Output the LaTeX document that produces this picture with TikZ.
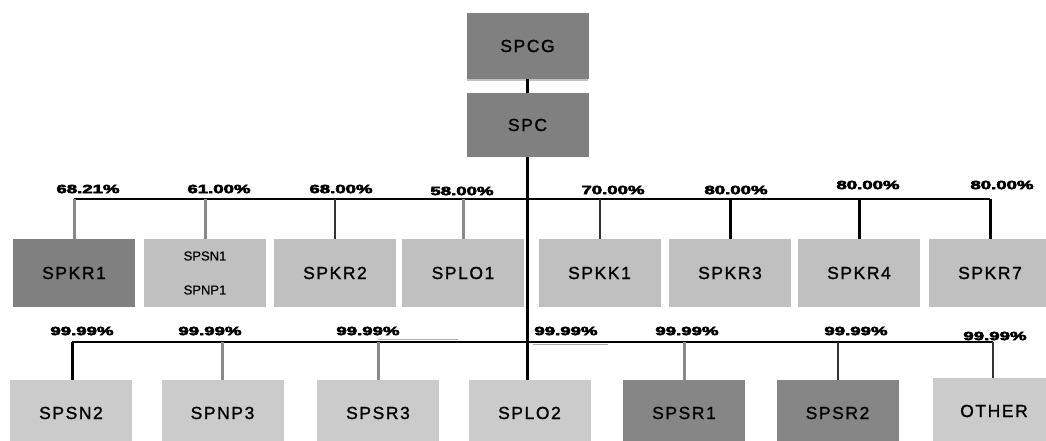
\documentclass[tikz,border=0pt]{standalone}
\usepackage{fontspec}
\setmainfont{Liberation Sans}
\newfontfamily\boxfont[LetterSpace=9,FakeBold=1.2]{Liberation Sans}
\newfontfamily\smallboxfont[FakeBold=0.5]{Liberation Sans}
\newfontfamily\pctfont[FakeBold=4]{Liberation Sans Bold}
\newcommand{\pc}[1]{\scalebox{1.55}[1]{\pctfont\fontsize{12}{12}\selectfont #1}}
\definecolor{darkbox}{HTML}{808080}
\definecolor{darkboxb}{HTML}{868686}
\definecolor{lightbox}{HTML}{C0C0C0}
\definecolor{lightboxb}{HTML}{CBCBCB}
\definecolor{dropgray}{HTML}{8A8A8A}
\definecolor{dropdark}{HTML}{333333}
\tikzset{
  box/.style={draw=none, minimum width=122pt, inner sep=0pt, text=black, font=\boxfont\fontsize{17.5}{17.5}\selectfont},
  dbox/.style={box, fill=darkbox},
  dboxb/.style={box, fill=darkboxb},
  lbox/.style={box, fill=lightbox},
  lboxb/.style={box, fill=lightboxb},
  pct/.style={inner sep=0pt},
  mainline/.style={draw=black, line width=3pt},
  barline/.style={draw=black, line width=2pt},
  dgray/.style={draw=dropgray, line width=3pt},
  ddark/.style={draw=dropdark, line width=2pt},
  dblack/.style={draw=black, line width=3pt},
  thingray/.style={draw=dropgray!70, line width=1pt}
}
\begin{document}
\begin{tikzpicture}[x=1pt,y=-1pt]
\useasboundingbox (0,0) rectangle (1046,441);
\fill[white] (0,0) rectangle (1046,441);
\clip (0,0) rectangle (1046,441);
% top boxes
\fill[lightbox] (467,78) rectangle (588,81);
\node[dbox, minimum height=66pt] (spcg) at (527.5,46) {SPCG};
\node[dbox, minimum height=64pt] (spc) at (527.5,125) {SPC};
% row 1
\node[dbox, minimum height=68pt] (spkr1) at (74,273) {SPKR1};
\node[lbox, minimum height=68pt, font=\smallboxfont\fontsize{13}{13}\selectfont, align=center] (spsn1) at (205,273) {SPSN1\\[21pt]SPNP1};
\node[lbox, minimum height=68pt] (spkr2) at (335,273) {SPKR2};
\node[lbox, minimum height=68pt] (splo1) at (463,273) {SPLO1};
\node[lbox, minimum height=68pt] (spkk1) at (599.5,273) {SPKK1};
\node[lbox, minimum height=68pt] (spkr3) at (730,273) {SPKR3};
\node[lbox, minimum height=68pt] (spkr4) at (859,273) {SPKR4};
\node[lbox, minimum height=68pt] (spkr7) at (990,273) {SPKR7};
% row 2
\node[lboxb, minimum height=66pt] (spsn2) at (71,413) {SPSN2};
\node[lboxb, minimum height=66pt] (spnp3) at (222.5,413) {SPNP3};
\node[lboxb, minimum height=66pt] (spsr3) at (378,413) {SPSR3};
\node[lboxb, minimum height=66pt] (splo2) at (529.5,413) {SPLO2};
\node[dboxb, minimum height=66pt] (spsr1) at (684,413) {SPSR1};
\node[dboxb, minimum height=66pt] (spsr2) at (837.5,413) {SPSR2};
\node[lboxb, minimum height=66pt] (other) at (994,411) {OTHER};
% bar coordinates
\coordinate (r1) at (529,199);
\coordinate (r2L) at (72,342);
\coordinate (r2R) at (993,342);
% main vertical
\draw[mainline] (spcg.south) -- (spc.north);
\draw[mainline] (spc.south) -- (spc.south |- splo2.north);
% row 1 bar and drops
\draw[barline] (spkr1.north |- r1) -- (spkr7.north |- r1);
\draw[dgray] (spkr1.north) -- (spkr1.north |- r1);
\draw[dgray] (spsn1.north) -- (spsn1.north |- r1);
\draw[ddark] (spkr2.north) -- (spkr2.north |- r1);
\draw[dgray] (splo1.north) -- (splo1.north |- r1);
\draw[ddark] (spkk1.north) -- (spkk1.north |- r1);
\draw[dblack] (spkr3.north) -- (spkr3.north |- r1);
\draw[dblack] (spkr4.north) -- (spkr4.north |- r1);
\draw[dblack] (spkr7.north) -- (spkr7.north |- r1);
% row 2 bar and drops
\draw[barline] (r2L) -- (r2R);
\draw[dblack] (spsn2.north -| r2L) -- (r2L);
\draw[dgray] (spnp3.north) -- (spnp3.north |- r2L);
\draw[dgray] (spsr3.north) -- (spsr3.north |- r2L);
\draw[dgray] (spsr1.north) -- (spsr1.north |- r2L);
\draw[ddark] (spsr2.north) -- (spsr2.north |- r2L);
\draw[ddark] (other.north -| r2R) -- (r2R);
\coordinate (g1a) at (378,339.5);
\coordinate (g1b) at (458,339.5);
\coordinate (g2a) at (533,344);
\coordinate (g2b) at (608,344);
\draw[thingray] (g1a) -- (g1b);
\draw[thingray] (g2a) -- (g2b);
% row 1 labels
\node[pct] (p1) at (88,189) {\pc{68.21\%}};
\node[pct] (p2) at (219,189) {\pc{61.00\%}};
\node[pct] (p3) at (341,189) {\pc{68.00\%}};
\node[pct] (p4) at (462,191) {\pc{58.00\%}};
\node[pct] (p5) at (613,190) {\pc{70.00\%}};
\node[pct] (p6) at (736,190) {\pc{80.00\%}};
\node[pct] (p7) at (868,185) {\pc{80.00\%}};
\node[pct] (p8) at (1002,185) {\pc{80.00\%}};
% row 2 labels
\node[pct] (q1) at (82,331) {\pc{99.99\%}};
\node[pct] (q2) at (210,331) {\pc{99.99\%}};
\node[pct] (q3) at (368,331) {\pc{99.99\%}};
\node[pct] (q4) at (566,331) {\pc{99.99\%}};
\node[pct] (q5) at (687,331) {\pc{99.99\%}};
\node[pct] (q6) at (856,331) {\pc{99.99\%}};
\node[pct] (q7) at (995,336) {\pc{99.99\%}};
\end{tikzpicture}
\end{document}
